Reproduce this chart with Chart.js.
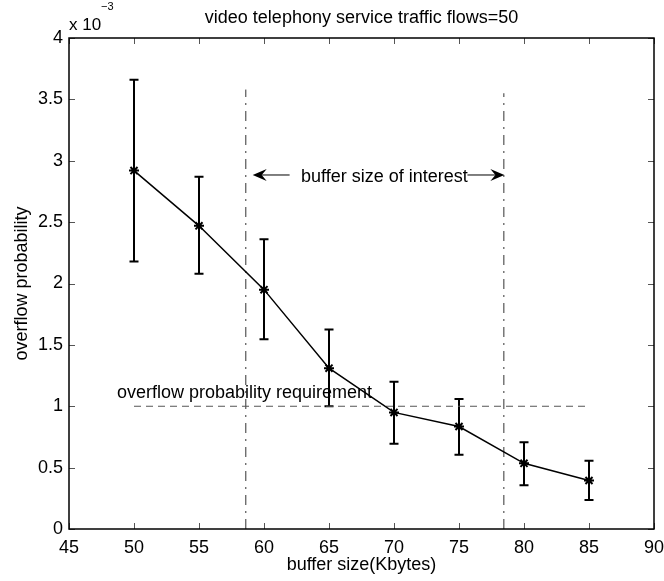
<!DOCTYPE html>
<html>
<head>
<meta charset="utf-8">
<script src="https://cdn.jsdelivr.net/npm/chart.js@4.4.1/dist/chart.umd.min.js"></script>
<style>
html, body { margin: 0; padding: 0; background: #fff; }
#chart { display: block; }
</style>
</head>
<body>
<canvas id="chart" width="664" height="581"></canvas>
<script>
// buffer size (Kbytes) and overflow probability, in units of 1e-3
const bufferSizes = [50, 55, 60, 65, 70, 75, 80, 85];
const overflowProb = [2.92, 2.47, 1.95, 1.31, 0.95, 0.835, 0.535, 0.395];
const errUpper = [3.66, 2.87, 2.36, 1.625, 1.20, 1.06, 0.706, 0.555];
const errLower = [2.18, 2.08, 1.545, 1.00, 0.695, 0.605, 0.356, 0.236];

// requirement level and the buffer range of interest
const requirementX = [50, 85];
const requirementY = [1, 1];
const interestLeftX = [58.6, 58.6];
const interestLeftY = [0, 3.58];
const interestRightX = [78.45, 78.45];
const interestRightY = [0, 3.55];

const xTicks = [45, 50, 55, 60, 65, 70, 75, 80, 85, 90];
const yTicks = [0, 0.5, 1, 1.5, 2, 2.5, 3, 3.5, 4];
const yTickLabels = ['0', '0.5', '1', '1.5', '2', '2.5', '3', '3.5', '4'];

const FONT = '"Liberation Sans", Arial, Helvetica, sans-serif';

const pts = (xs, ys) => xs.map((x, i) => ({x: x, y: ys[i]}));

function arrowHead(ctx, tipX, tipY, dir) {
  ctx.beginPath();
  ctx.moveTo(tipX, tipY);
  ctx.lineTo(tipX - dir * 14, tipY - 6);
  ctx.lineTo(tipX - dir * 9, tipY);
  ctx.lineTo(tipX - dir * 14, tipY + 6);
  ctx.closePath();
  ctx.fill();
}

// matlab look: error bars, full box, inward ticks, texts and arrows
const matlabDecor = {
  id: 'matlabDecor',
  beforeDatasetsDraw(chart) {
    const ctx = chart.ctx;
    const x = chart.scales.x, y = chart.scales.y;
    ctx.save();
    ctx.strokeStyle = '#000';
    ctx.lineWidth = 2;
    bufferSizes.forEach((b, i) => {
      const px = x.getPixelForValue(b);
      const top = y.getPixelForValue(errUpper[i]);
      const bot = y.getPixelForValue(errLower[i]);
      ctx.beginPath();
      ctx.moveTo(px, top); ctx.lineTo(px, bot);
      ctx.moveTo(px - 4.5, top); ctx.lineTo(px + 4.5, top);
      ctx.moveTo(px - 4.5, bot); ctx.lineTo(px + 4.5, bot);
      ctx.stroke();
    });
    ctx.restore();
  },
  afterDraw(chart) {
    const ctx = chart.ctx;
    const a = chart.chartArea;
    const x = chart.scales.x, y = chart.scales.y;
    ctx.save();

    // inward ticks on all four sides
    ctx.strokeStyle = '#555';
    ctx.lineWidth = 1;
    ctx.beginPath();
    x.ticks.forEach(t => {
      const px = Math.round(x.getPixelForValue(t.value)) + 0.5;
      ctx.moveTo(px, a.bottom); ctx.lineTo(px, a.bottom - 6);
      ctx.moveTo(px, a.top); ctx.lineTo(px, a.top + 6);
    });
    y.ticks.forEach(t => {
      const py = Math.round(y.getPixelForValue(t.value)) + 0.5;
      ctx.moveTo(a.left, py); ctx.lineTo(a.left + 6, py);
      ctx.moveTo(a.right, py); ctx.lineTo(a.right - 6, py);
    });
    ctx.stroke();

    // box
    ctx.strokeStyle = '#000';
    ctx.lineWidth = 1.5;
    ctx.strokeRect(a.left, a.top, a.right - a.left, a.bottom - a.top);

    ctx.fillStyle = '#000';
    ctx.textBaseline = 'alphabetic';

    // title
    ctx.font = '18px ' + FONT;
    ctx.textAlign = 'center';
    ctx.fillText('video telephony service traffic flows=50', (a.left + a.right) / 2, 23);

    // exponent
    ctx.textAlign = 'left';
    ctx.font = '17px ' + FONT;
    ctx.fillText('x 10', a.left, 30);
    ctx.font = '11px ' + FONT;
    ctx.fillText('\u22123', a.left + 32, 10);

    // annotations
    ctx.font = '18px ' + FONT;
    ctx.fillText('overflow probability requirement', x.getPixelForValue(48.69), y.getPixelForValue(1.067));
    ctx.fillText('buffer size of interest', x.getPixelForValue(62.85), y.getPixelForValue(2.83));

    const ay = y.getPixelForValue(2.884);
    const lTip = x.getPixelForValue(59.13), lTail = x.getPixelForValue(61.97);
    const rTail = x.getPixelForValue(75.65), rTip = x.getPixelForValue(78.49);
    ctx.lineWidth = 1;
    ctx.beginPath();
    ctx.moveTo(lTail, ay); ctx.lineTo(lTip + 9, ay);
    ctx.moveTo(rTail, ay); ctx.lineTo(rTip - 9, ay);
    ctx.stroke();
    arrowHead(ctx, lTip, ay, -1);
    arrowHead(ctx, rTip, ay, 1);

    ctx.restore();
  }
};

new Chart(document.getElementById('chart'), {
  type: 'scatter',
  data: {
    datasets: [
      {
        data: pts(bufferSizes, overflowProb),
        showLine: true,
        borderColor: '#000',
        borderWidth: 1.5,
        pointStyle: 'star',
        pointRadius: 5,
        pointBorderColor: '#000',
        pointBorderWidth: 2,
        pointBackgroundColor: '#000'
      },
      {
        data: pts(requirementX, requirementY),
        showLine: true,
        borderColor: '#555',
        borderWidth: 1,
        borderDash: [7, 5],
        pointRadius: 0
      },
      {
        data: pts(interestLeftX, interestLeftY),
        showLine: true,
        borderColor: '#333',
        borderWidth: 1,
        borderDash: [10, 6, 2, 6],
        pointRadius: 0
      },
      {
        data: pts(interestRightX, interestRightY),
        showLine: true,
        borderColor: '#333',
        borderWidth: 1,
        borderDash: [10, 6, 2, 6],
        pointRadius: 0
      }
    ]
  },
  options: {
    responsive: false,
    animation: false,
    layout: { padding: { top: 38, right: 10, left: 0, bottom: 0 } },
    plugins: {
      legend: { display: false },
      tooltip: { enabled: false },
      title: { display: false }
    },
    scales: {
      x: {
        type: 'linear',
        min: 45,
        max: 90,
        grid: { display: false, drawTicks: false },
        border: { display: false },
        afterBuildTicks: s => { s.ticks = xTicks.map(v => ({value: v})); },
        afterFit: s => { s.height = 52; s.paddingLeft = 0; s.paddingRight = 0; },
        ticks: {
          color: '#000',
          font: { family: FONT, size: 18 },
          padding: 8,
          maxRotation: 0,
          autoSkip: false,
          callback: v => String(v)
        },
        title: {
          display: true,
          text: 'buffer size(Kbytes)',
          color: '#000',
          font: { family: FONT, size: 18 },
          padding: { top: 0, bottom: 5 }
        }
      },
      y: {
        type: 'linear',
        min: 0,
        max: 4,
        grid: { display: false, drawTicks: false },
        border: { display: false },
        afterBuildTicks: s => { s.ticks = yTicks.map(v => ({value: v})); },
        afterFit: s => { s.width = 69; s.paddingTop = 0; s.paddingBottom = 0; },
        ticks: {
          color: '#000',
          font: { family: FONT, size: 18 },
          padding: 6,
          autoSkip: false,
          callback: (v, i) => yTickLabels[i]
        },
        title: {
          display: true,
          text: 'overflow probability',
          color: '#000',
          font: { family: FONT, size: 18 },
          padding: { top: 11, bottom: 0 }
        }
      }
    }
  },
  plugins: [matlabDecor]
});
</script>
</body>
</html>
